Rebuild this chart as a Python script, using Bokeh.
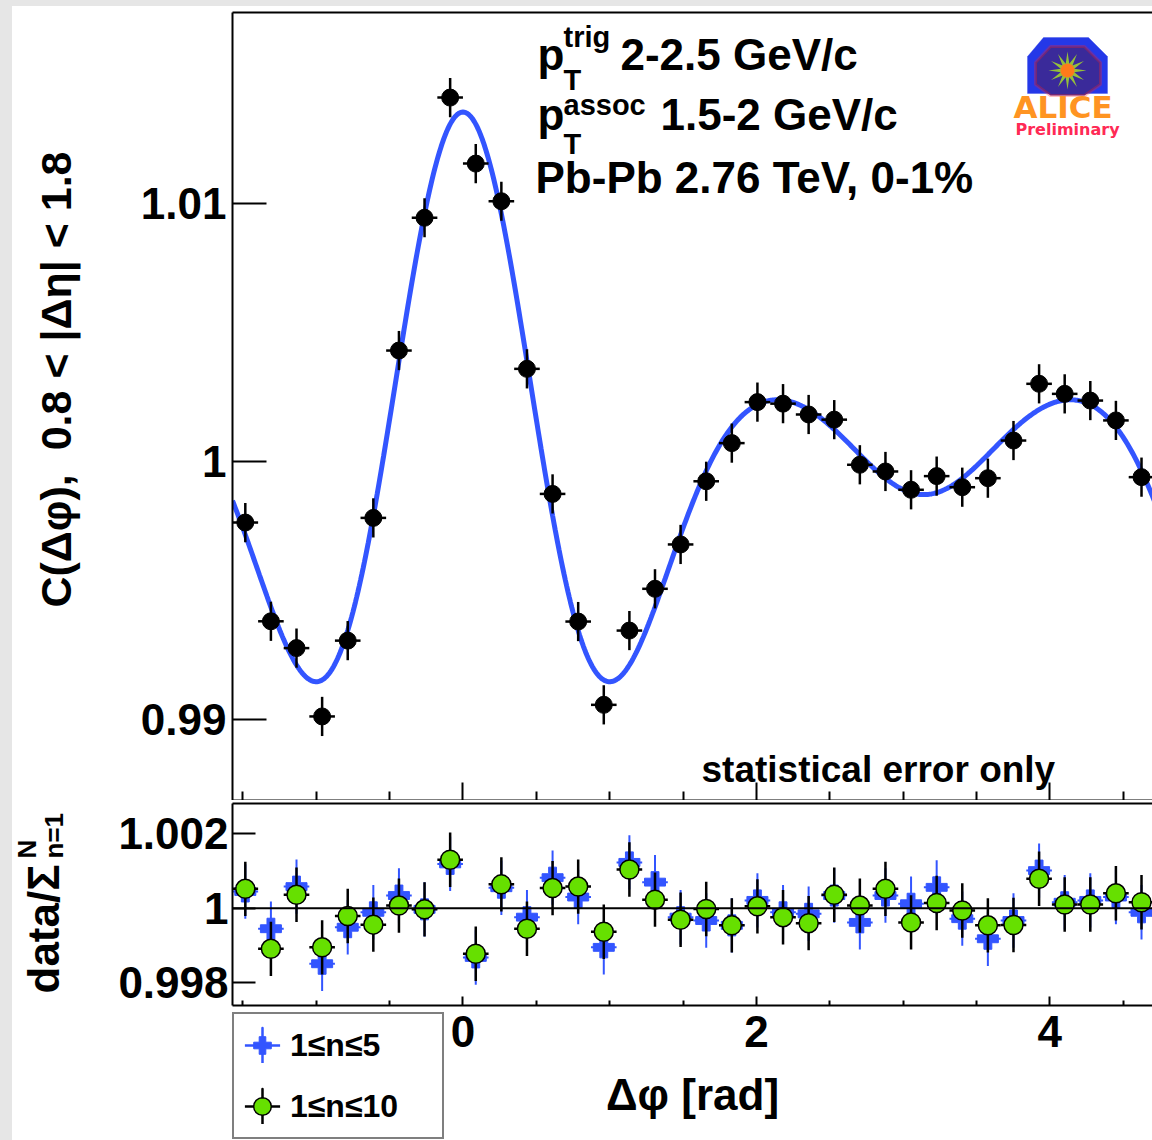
import numpy as np
from bokeh.plotting import figure
from bokeh.layouts import column, row
from bokeh.models import (Range1d, LinearAxis, FixedTicker, Label, Legend, LegendItem,
                          ColumnDataSource, PolyAnnotation, Span, Spacer)
from bokeh.embed import file_html
from bokeh.resources import INLINE

# ---------------------------------------------------------------- data
# Δφ bin centres [rad], 36 bins over (-π/2, 3π/2)
dphi = [-1.4835, -1.3090, -1.1345, -0.9599, -0.7854, -0.6109, -0.4363, -0.2618,
        -0.0873, 0.0873, 0.2618, 0.4363, 0.6109, 0.7854, 0.9599, 1.1345,
        1.3090, 1.4835, 1.6581, 1.8326, 2.0071, 2.1817, 2.3562, 2.5307,
        2.7053, 2.8798, 3.0543, 3.2289, 3.4034, 3.5779, 3.7525, 3.9270,
        4.1015, 4.2761, 4.4506, 4.6251]

# C(Δφ) for 0.8 < |Δη| < 1.8, Pb-Pb 2.76 TeV 0-1%
corr = [0.99764, 0.99381, 0.99277, 0.99012, 0.99306, 0.99782, 1.00431, 1.00946,
        1.01412, 1.01156, 1.01010, 1.00360, 0.99875, 0.99380, 0.99057, 0.99345,
        0.99507, 0.99679, 0.99924, 1.00072, 1.00231, 1.00225, 1.00183, 1.00163,
        0.99988, 0.99962, 0.99891, 0.99944, 0.99901, 0.99936, 1.00082, 1.00302,
        1.00263, 1.00237, 1.00160, 0.99940]
corr_err = [0.00076] * 36

# data / Fourier sum, 1 <= n <= 5
ratio_n5 = [1.00045, 0.99945, 1.00058, 0.99851, 0.99949, 0.99989, 1.00034, 0.99997,
            1.00119, 0.99868, 1.00055, 0.99976, 1.00082, 1.00030, 0.99895, 1.00123,
            1.00070, 0.99976, 0.99967, 0.99954, 1.00021, 0.99989, 0.99985, 1.00034,
            0.99962, 1.00034, 1.00012, 1.00056, 0.99972, 0.99918, 0.99967, 1.00101,
            1.00016, 1.00021, 1.00030, 0.99989]
# data / Fourier sum, 1 <= n <= 10
ratio_n10 = [1.00052, 0.99891, 1.00036, 0.99895, 0.99979, 0.99956, 1.00007, 0.99997,
             1.00130, 0.99878, 1.00064, 0.99945, 1.00054, 1.00058, 0.99937, 1.00104,
             1.00023, 0.99969, 0.99998, 0.99954, 1.00005, 0.99976, 0.99960, 1.00036,
             1.00007, 1.00052, 0.99962, 1.00014, 0.99994, 0.99954, 0.99955, 1.00079,
             1.00010, 1.00010, 1.00040, 1.00016]
ratio_err = [0.00073] * 36

BIN_HALF = np.pi / 36          # half of the Δφ bin width
FIT_ORDER = 5                  # harmonics in the drawn Fourier sum

top_ticks = [0.99, 1.0, 1.01]
top_tick_labels = ["0.99", "1", "1.01"]
ratio_ticks = [0.998, 1.0, 1.002]
ratio_tick_labels = ["0.998", "1", "1.002"]
x_major = [0, 2, 4]
x_major_labels = ["0", "2", "4"]
x_minor = [-1.5, -1.0, -0.5, 0.5, 1.0, 1.5, 2.5, 3.0, 3.5, 4.5]
legend_labels = ["1≤n≤5", "1≤n≤10"]

# ---------------------------------------------------------------- style
FONT = "Liberation Sans"
BLUE = "#3355ff"
GREEN = "#66e000"
PAGE_GREY = "#e6e6e6"
X_LO, X_HI = -np.pi / 2, 4.70
FRAME_W = 920                  # width of the data frames in px
TITLE_W = 100                  # width of the column holding the y titles
BASE_SHIFT = 0.375             # Label baseline offset, in em, below its anchor


def style_axis(ax, tick_in, minor_in, label_px, standoff):
    ax.axis_line_width = 2
    ax.axis_line_color = "black"
    ax.major_tick_in = tick_in
    ax.major_tick_out = 0
    ax.minor_tick_in = minor_in
    ax.minor_tick_out = 0
    ax.major_tick_line_width = 2
    ax.minor_tick_line_width = 2
    ax.major_label_text_font = FONT
    ax.major_label_text_font_style = "bold"
    ax.major_label_text_color = "black"
    ax.major_label_text_font_size = f"{label_px}px"
    ax.major_label_standoff = standoff


def tick_only_axis():
    """x axis carrying inward ticks but no tick labels."""
    return LinearAxis(ticker=FixedTicker(ticks=x_major, minor_ticks=x_minor),
                      major_label_overrides={t: "" for t in x_major})


def edge_axis():
    ax = LinearAxis(ticker=FixedTicker(ticks=[]))
    style_axis(ax, 0, 0, 1, 0)
    return ax


def label(text, sx, sy, size, color="black", angle=0.0, font=FONT, align="left",
          x_units="screen"):
    """Bold text whose baseline sits at (sx, sy) in frame pixels."""
    shift = BASE_SHIFT * size
    if angle:
        sx = sx - shift
    else:
        sy = sy + shift
    return Label(x=sx, y=sy, x_units=x_units, y_units="screen", text=text,
                 text_font=font, text_font_size=f"{size}px", text_font_style="bold",
                 text_color=color, text_align=align, text_baseline="alphabetic",
                 angle=angle)


def blank_panel(width, height):
    f = figure(width=width, height=height, x_range=Range1d(0, 1), y_range=Range1d(0, 1),
               x_axis_location=None, y_axis_location=None,
               output_backend="svg", toolbar_location=None,
               min_border_left=0, min_border_right=0, min_border_top=0, min_border_bottom=0,
               outline_line_color=None, background_fill_color="white",
               border_fill_color="white")
    f.grid.visible = False
    return f


x_range = Range1d(X_LO, X_HI)

# ---------------------------------------------------------------- upper panel
top = figure(width=FRAME_W + 120, height=794, x_range=x_range, y_range=Range1d(0.98686, 1.01742),
             x_axis_location=None, y_axis_location=None,
             output_backend="svg", toolbar_location=None,
             min_border_left=120, min_border_right=0, min_border_top=6, min_border_bottom=0,
             outline_line_color=None, background_fill_color="white",
             border_fill_color="white")
top.grid.visible = False

ay = LinearAxis(ticker=FixedTicker(ticks=top_ticks),
                major_label_overrides=dict(zip(top_ticks, top_tick_labels)))
style_axis(ay, 34, 0, 44, 6)
top.add_layout(ay, "left")

ax_top = tick_only_axis()
style_axis(ax_top, 18, 9, 1, 0)
top.add_layout(ax_top, "below")
top.add_layout(edge_axis(), "above")

# Fourier sum up to FIT_ORDER, least-squares fitted to the measured correlation
phi = np.array(dphi)
basis = np.column_stack([np.cos(n * phi) for n in range(FIT_ORDER + 1)])
coef, *_ = np.linalg.lstsq(basis, np.array(corr), rcond=None)
phi_fine = np.linspace(-np.pi / 2, 3 * np.pi / 2, 721)
fit_curve = sum(c * np.cos(n * phi_fine) for n, c in enumerate(coef))
top.line(phi_fine, fit_curve, line_color=BLUE, line_width=5)

c_err = np.array(corr_err)
src_c = ColumnDataSource(dict(x=phi, y=corr, xl=phi - BIN_HALF, xr=phi + BIN_HALF,
                              yl=np.array(corr) - c_err, yh=np.array(corr) + c_err))
top.segment(x0="xl", y0="y", x1="xr", y1="y", source=src_c, line_color="black", line_width=2.5)
top.segment(x0="x", y0="yl", x1="x", y1="yh", source=src_c, line_color="black", line_width=2.5)
top.scatter("x", "y", source=src_c, marker="circle", size=17,
            fill_color="black", line_color="black")

# upper-panel captions (frame px from the lower-left corner)
top.add_layout(label("p", 305, 730, 44))
top.add_layout(label("trig", 331, 753, 29))
top.add_layout(label("T", 331, 710, 29))
top.add_layout(label("2-2.5 GeV/c", 388, 730, 44))
top.add_layout(label("p", 305, 670, 44))
top.add_layout(label("assoc", 331, 685, 29))
top.add_layout(label("T", 331, 646, 29))
top.add_layout(label("1.5-2 GeV/c", 428, 670, 44))
top.add_layout(label("Pb-Pb 2.76 TeV, 0-1%", 303, 607, 44))
top.add_layout(label("statistical error only", 469, 17, 37))

# experiment logo
top.add_layout(PolyAnnotation(xs=[811, 856, 875, 875, 795, 795], ys=[763, 763, 744, 707, 707, 744],
                              xs_units="screen", ys_units="screen",
                              fill_color="#2438e8", fill_alpha=1, line_color="#2438e8"))
top.add_layout(PolyAnnotation(xs=[818, 852, 868, 868, 852, 818, 803, 803],
                              ys=[754, 754, 738, 716, 705, 705, 716, 738],
                              xs_units="screen", ys_units="screen",
                              fill_color="#3a2a9a", fill_alpha=1, line_color="#ff2020", line_width=3))
ang = np.linspace(0, 2 * np.pi, 25)[:-1]
rad = np.where(np.arange(24) % 2 == 0, 19, 7)
top.add_layout(PolyAnnotation(xs=list(835 + rad * np.cos(ang)), ys=list(730 + rad * np.sin(ang)),
                              xs_units="screen", ys_units="screen",
                              fill_color="#9fd030", fill_alpha=0.9, line_color=None))
top.add_layout(PolyAnnotation(xs=list(835 + 7 * np.cos(ang)), ys=list(730 + 7 * np.sin(ang)),
                              xs_units="screen", ys_units="screen",
                              fill_color="#ff7a1a", fill_alpha=1, line_color=None))
top.add_layout(label("ALICE", 781, 682, 31, color="#ff9422", font="DejaVu Sans"))
top.add_layout(label("Preliminary", 783, 665, 16, color="#ff2a55", font="DejaVu Sans"))

# y title of the upper panel
t_title = blank_panel(TITLE_W, 794)
t_title.add_layout(label("C(Δφ),\u00a0\u00a00.8 < |Δη| < 1.8", 60, 193, 43, angle=np.pi / 2))

# ---------------------------------------------------------------- ratio panel
bot = figure(width=FRAME_W + 120, height=207, x_range=x_range, y_range=Range1d(0.99739, 1.00281),
             x_axis_location=None, y_axis_location=None,
             output_backend="svg", toolbar_location=None,
             min_border_left=120, min_border_right=0, min_border_top=3, min_border_bottom=2,
             outline_line_color=None, background_fill_color="white",
             border_fill_color="white")
bot.grid.visible = False

ay_b = LinearAxis(ticker=FixedTicker(ticks=ratio_ticks),
                  major_label_overrides=dict(zip(ratio_ticks, ratio_tick_labels)))
style_axis(ay_b, 23, 0, 44, 4)
bot.add_layout(ay_b, "left")

ax_b = tick_only_axis()
style_axis(ax_b, 9, 5, 1, 0)
bot.add_layout(ax_b, "below")
bot.add_layout(edge_axis(), "above")

bot.add_layout(Span(location=1.0, dimension="width", line_color="black", line_width=2))

r5 = np.array(ratio_n5)
r10 = np.array(ratio_n10)
r_err = np.array(ratio_err)
src_5 = ColumnDataSource(dict(x=phi, y=r5, xl=phi - BIN_HALF, xr=phi + BIN_HALF,
                              yl=r5 - r_err, yh=r5 + r_err))
src_10 = ColumnDataSource(dict(x=phi, y=r10, xl=phi - BIN_HALF, xr=phi + BIN_HALF,
                               yl=r10 - r_err, yh=r10 + r_err))
bot.segment(x0="xl", y0="y", x1="xr", y1="y", source=src_5, line_color=BLUE, line_width=2)
bot.segment(x0="x", y0="yl", x1="x", y1="yh", source=src_5, line_color=BLUE, line_width=2)
bot.scatter("x", "y", source=src_5, marker="plus", size=21, fill_color=BLUE, line_color=BLUE)
bot.segment(x0="xl", y0="y", x1="xr", y1="y", source=src_10, line_color="black", line_width=2.5)
bot.segment(x0="x", y0="yl", x1="x", y1="yh", source=src_10, line_color="black", line_width=2.5)
bot.scatter("x", "y", source=src_10, marker="circle", size=19,
            fill_color=GREEN, line_color="black", line_width=1.5)

# y title of the ratio panel: data / Σ_{n=1}^{N}
b_title = blank_panel(TITLE_W, 207)
b_title.add_layout(label("data/Σ", 47, 12, 44, angle=np.pi / 2))
b_title.add_layout(label("N", 24, 147, 26, angle=np.pi / 2))
b_title.add_layout(label("n=1", 51, 147, 26, angle=np.pi / 2))

# ---------------------------------------------------------------- x labels + legend strip
px_per_unit = FRAME_W / (X_HI - X_LO)
strip = figure(width=TITLE_W + 120 + FRAME_W, height=133,
               x_range=Range1d(X_LO - (TITLE_W + 120) / px_per_unit, X_HI),
               y_range=Range1d(0, 133),
               x_axis_location=None, y_axis_location=None,
               output_backend="svg", toolbar_location=None,
               min_border_left=0, min_border_right=0, min_border_top=0, min_border_bottom=0,
               outline_line_color=None, background_fill_color="white",
               border_fill_color="white")
strip.grid.visible = False

for t, txt in zip(x_major, x_major_labels):
    strip.add_layout(label(txt, t, 93, 44, align="center", x_units="data"))
strip.add_layout(label("Δφ [rad]", (X_LO + X_HI) / 2, 30, 44, align="center", x_units="data"))

# legend swatches: thin ellipses give the error-bar cross of each entry
key = ColumnDataSource(dict(x=[-50.0], y=[50.0]))
swatch = {}
for name, col in (("n5", BLUE), ("n10", "black")):
    h = strip.ellipse(x="x", y="y", width=40, height=0.01, width_units="screen",
                      height_units="screen", source=key, fill_color=None,
                      line_color=col, line_width=2.5)
    v = strip.ellipse(x="x", y="y", width=0.01, height=40, width_units="screen",
                      height_units="screen", source=key, fill_color=None,
                      line_color=col, line_width=2.5)
    swatch[name] = [h, v]
k5 = strip.scatter(x="x", y="y", source=key, marker="plus", size=20,
                   fill_color=BLUE, line_color=BLUE)
k10 = strip.scatter(x="x", y="y", source=key, marker="circle", size=19,
                    fill_color=GREEN, line_color="black", line_width=1.5)

legend = Legend(items=[LegendItem(label=legend_labels[0], renderers=swatch["n5"] + [k5]),
                       LegendItem(label=legend_labels[1], renderers=swatch["n10"] + [k10])],
                location=(TITLE_W + 120, 1), orientation="vertical",
                glyph_width=44, glyph_height=50, label_width=146, label_standoff=6,
                padding=6, spacing=11, margin=0,
                label_text_font=FONT, label_text_font_style="bold", label_text_font_size="32px",
                label_text_color="black",
                border_line_color="black", border_line_width=2,
                background_fill_color="white", background_fill_alpha=1.0)
strip.add_layout(legend)

# grey page edge along the left and top
left_edge = Spacer(width=12, height=1140, styles={"background-color": PAGE_GREY})
top_edge = Spacer(width=TITLE_W + 120 + FRAME_W, height=6, styles={"background-color": PAGE_GREY})

page = row(left_edge,
           column(top_edge, row(t_title, top), row(b_title, bot), strip))
open("out.html", "w").write(file_html(page, INLINE))
